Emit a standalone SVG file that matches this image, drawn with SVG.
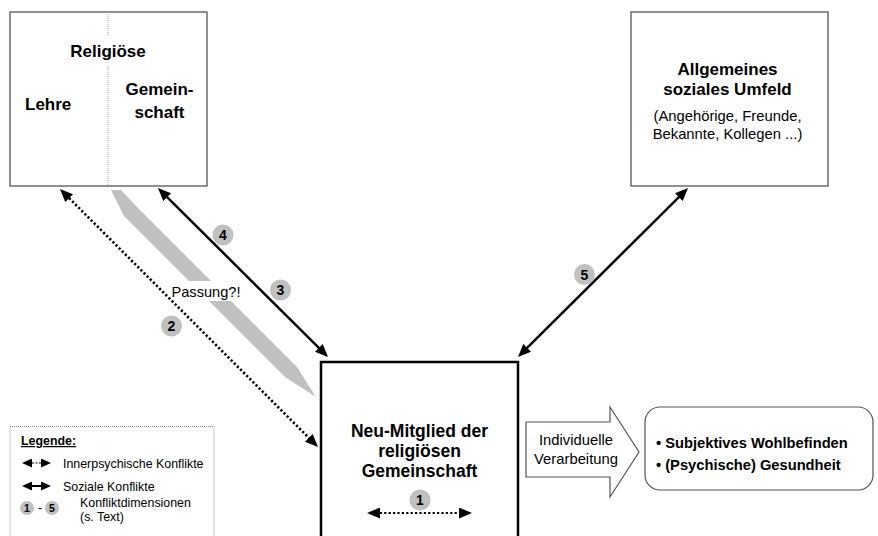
<svg xmlns="http://www.w3.org/2000/svg" width="878" height="536" viewBox="0 0 878 536">
<style>
text{font-family:"Liberation Sans",Arial,sans-serif;fill:#000}
.b{font-weight:bold}
.t17{font-size:17px}
.t15{font-size:14.8px}
.lg{font-size:12.4px}
.box{fill:#fff;stroke:#555;stroke-width:1.3}
.num{fill:#c0c0c0}
.nt{font-size:14px;font-weight:bold;text-anchor:middle}
.solid{stroke:#000;stroke-width:2.5;fill:none}
.dot{stroke:#000;stroke-width:2.6;fill:none;stroke-dasharray:2.2 2.2}
</style>
<defs>
<marker id="ah" viewBox="0 0 13 11" refX="9" refY="5.5" markerWidth="13" markerHeight="11" markerUnits="userSpaceOnUse" orient="auto-start-reverse">
<path d="M0,0 L13,5.5 L0,11 z" fill="#000"/>
</marker>
<marker id="ahs" viewBox="0 0 10 9" refX="7" refY="4.5" markerWidth="10" markerHeight="9" markerUnits="userSpaceOnUse" orient="auto-start-reverse">
<path d="M0,0 L10,4.5 L0,9 z" fill="#000"/>
</marker>
</defs>

<!-- Passung band -->
<g id="passung">
<polygon points="111,190 121,190 136,206 297,367 316,397 285,377 124,216" fill="#c0c0c0"/>
<rect x="169" y="281" width="76" height="20" fill="#fff"/>
<text x="171.5" y="297" style="font-size:14.6px">Passung?!</text>
</g>

<g id="religioese">
<rect class="box" x="10" y="12" width="197" height="174"/>
<path d="M108,12 V35 M108,66 V186" stroke="#aaa" stroke-width="1" stroke-dasharray="1 1" fill="none"/>
<text class="b t17" x="108" y="57" text-anchor="middle">Religiöse</text>
<text class="b t17" x="25" y="110">Lehre</text>
<text class="b t17" x="159.5" y="95" text-anchor="middle">Gemein-</text>
<text class="b t17" x="159.5" y="118" text-anchor="middle">schaft</text>
</g>

<g id="umfeld">
<rect class="box" x="631" y="12" width="197" height="174"/>
<text class="b t17" x="727.5" y="75" text-anchor="middle">Allgemeines</text>
<text class="b t17" x="727.5" y="95" text-anchor="middle">soziales Umfeld</text>
<text class="t15" x="727.5" y="120.5" text-anchor="middle">(Angehörige, Freunde,</text>
<text class="t15" x="727.5" y="138.5" text-anchor="middle">Bekannte, Kollegen ...)</text>
</g>

<g id="neumitglied">
<rect x="321" y="362" width="197" height="185" fill="#fff" stroke="#000" stroke-width="2.5"/>
<text class="b" style="font-size:17.5px" x="419.5" y="436.5" text-anchor="middle">Neu-Mitglied der</text>
<text class="b" style="font-size:17.5px" x="419.5" y="456.5" text-anchor="middle">religiösen</text>
<text class="b" style="font-size:17.5px" x="419.5" y="476.5" text-anchor="middle">Gemeinschaft</text>
<circle class="num" cx="420" cy="500" r="10.5"/>
<text class="nt" x="420" y="505">1</text>
<path class="dot" style="stroke-width:2.2" d="M371,513 H468" marker-start="url(#ah)" marker-end="url(#ah)"/>
</g>

<g id="verarbeitung">
<polygon points="526,422 610,422 610,407 639,452 610,497 610,477 526,477" fill="#fff" stroke="#555" stroke-width="1.2"/>
<text class="t15" x="576" y="445" text-anchor="middle">Individuelle</text>
<text class="t15" x="576" y="463.5" text-anchor="middle">Verarbeitung</text>
</g>

<g id="outcomes">
<rect x="645" y="407" width="228" height="83" rx="15" fill="#fff" stroke="#555" stroke-width="1.2"/>
<text class="b" style="font-size:14.7px" x="656" y="448">• Subjektives Wohlbefinden</text>
<text class="b" style="font-size:14.7px" x="656" y="470">• (Psychische) Gesundheit</text>
</g>

<g id="connectors">
<path class="dot" d="M62.8,191.8 L315.2,444.2" marker-start="url(#ah)" marker-end="url(#ah)"/>
<path class="solid" d="M160.8,190.8 L325.2,354.2" marker-start="url(#ah)" marker-end="url(#ah)"/>
<path class="solid" d="M685.2,190.8 L520.8,354.2" marker-start="url(#ah)" marker-end="url(#ah)"/>
</g>

<g id="labels">
<circle class="num" cx="223" cy="235" r="10.5"/><text class="nt" x="223" y="240">4</text>
<circle class="num" cx="280.5" cy="290" r="10.5"/><text class="nt" x="280.5" y="295">3</text>
<circle class="num" cx="171.5" cy="326" r="10.5"/><text class="nt" x="171.5" y="331">2</text>
<circle class="num" cx="584.5" cy="274.5" r="10.5"/><text class="nt" x="584.5" y="279.5">5</text>
</g>

<g id="legende">
<path d="M10,426.5 H214 V540 M10,426.5 V540" stroke="#888" stroke-width="1" stroke-dasharray="1 1" fill="none"/>
<text class="b lg" x="21" y="445" text-decoration="underline">Legende:</text>
<path d="M25,463 H48" stroke="#000" stroke-width="1" stroke-dasharray="2 1.5" fill="none" marker-start="url(#ahs)" marker-end="url(#ahs)"/>
<text class="lg" x="63" y="467.5">Innerpsychische Konflikte</text>
<path d="M25,486 H48" stroke="#000" stroke-width="2" fill="none" marker-start="url(#ahs)" marker-end="url(#ahs)"/>
<text class="lg" x="63" y="490.5">Soziale Konflikte</text>
<circle class="num" cx="27" cy="508" r="7"/><text x="27" y="511.8" style="font-size:10.5px;font-weight:bold" text-anchor="middle">1</text>
<text class="lg" x="40" y="512" text-anchor="middle">-</text>
<circle class="num" cx="52" cy="508" r="7"/><text x="52" y="511.8" style="font-size:10.5px;font-weight:bold" text-anchor="middle">5</text>
<text class="lg" x="80" y="507">Konfliktdimensionen</text>
<text class="lg" x="80" y="521">(s. Text)</text>
</g>
</svg>
